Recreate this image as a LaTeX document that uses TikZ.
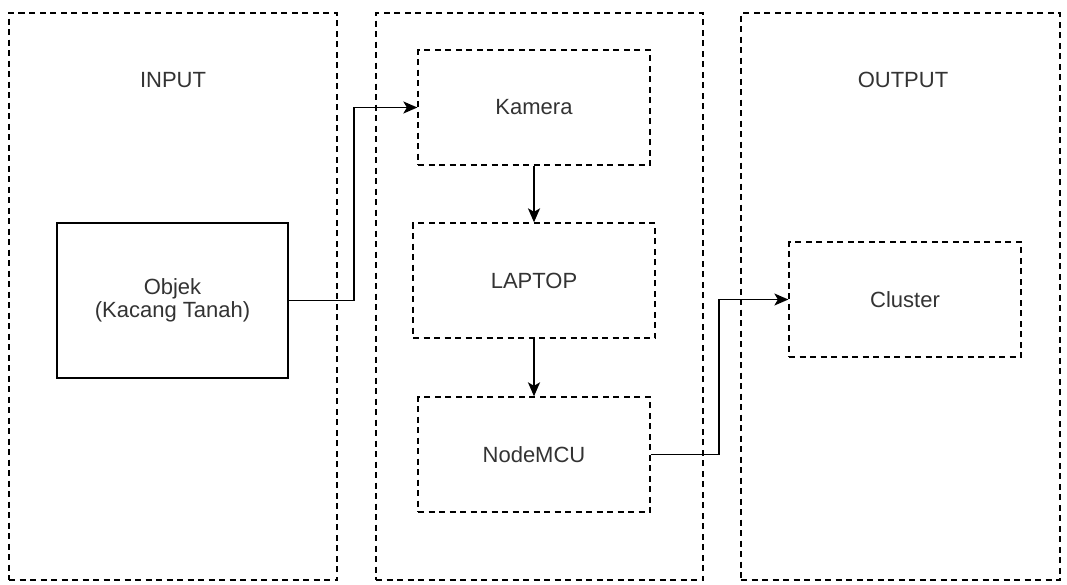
\documentclass[tikz,border=0pt]{standalone}
\usepackage{fontspec}
\setmainfont{Liberation Sans}
\usetikzlibrary{arrows.meta}
\begin{document}
\begin{tikzpicture}[x=1pt,y=-1pt,
 panel/.style={draw=black, dash pattern=on 6pt off 4.5pt, line width=1.2pt, inner sep=0pt},
 dbox/.style={draw=black, dash pattern=on 6pt off 4.5pt, line width=1.3pt, minimum width=232pt, minimum height=115pt, font=\fontsize{22}{23}\selectfont, text=black!80, align=center, inner sep=0pt},
 sbox/.style={draw=black, solid, line width=1.2pt, minimum width=231pt, minimum height=155pt, font=\fontsize{22}{23}\selectfont, text=black!80, align=center, inner sep=0pt},
 lbl/.style={font=\fontsize{22}{23}\selectfont, text=black!80, inner sep=0pt},
 conn/.style={line width=1.4pt, -{Stealth[length=14pt,width=12pt,inset=3.5pt]}}
]
\useasboundingbox[fill=white] (0,0) rectangle (1067,584);
% panels
\node[panel, minimum width=328pt, minimum height=567pt] (pin) at (173,296.5) {};
\node[panel, minimum width=327pt, minimum height=567pt] (pmid) at (539.5,296.5) {};
\node[panel, minimum width=319pt, minimum height=567pt] (pout) at (900.5,296.5) {};
\node[lbl] (tin) at (173,80) {INPUT};
\node[lbl] (tout) at (903,80) {OUTPUT};
% boxes
\node[sbox] (obj) at (172.5,300.5) {Objek\\(Kacang Tanah)};
\node[dbox] (kam) at (534,107.5) {Kamera};
\node[dbox, minimum width=242pt] (lap) at (534,280.5) {LAPTOP};
\node[dbox] (nod) at (534,454.5) {NodeMCU};
\node[dbox] (clu) at (905,299.5) {Cluster};
% connectors
\coordinate (c1) at (354,0);
\coordinate (c2) at (719,0);
\draw[conn] (obj.east) -- (obj.east -| c1) |- (kam.west);
\draw[conn, line width=2pt] (kam.south) -- (lap.north);
\draw[conn, line width=2pt] (lap.south) -- (nod.north);
\draw[conn] (nod.east) -- (nod.east -| c2) |- (clu.west);
\end{tikzpicture}
\end{document}
